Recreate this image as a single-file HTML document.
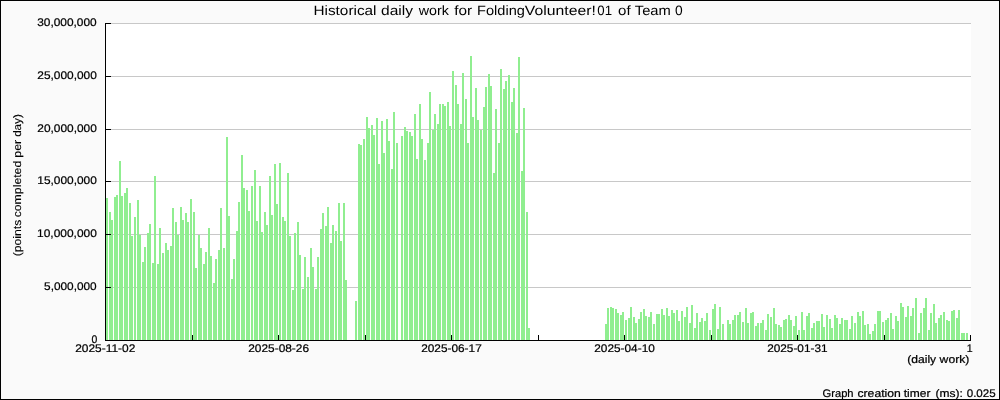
<!DOCTYPE html>
<html><head><meta charset="utf-8"><title>Historical daily work</title>
<style>
html,body{margin:0;padding:0;background:#fafafa;}
body{width:1000px;height:400px;overflow:hidden;font-family:"Liberation Sans",sans-serif;}
svg{display:block;}
</style></head><body>
<svg width="1000" height="400" viewBox="0 0 1000 400" shape-rendering="crispEdges" text-rendering="geometricPrecision" style="will-change:transform">
<rect x="0" y="0" width="1000" height="400" fill="#fafafa"/>
<rect x="106" y="24" width="865" height="316" fill="#fff"/>
<rect x="106" y="23" width="865" height="1" fill="#c8c8c8"/>
<rect x="106" y="76" width="865" height="1" fill="#c8c8c8"/>
<rect x="106" y="129" width="865" height="1" fill="#c8c8c8"/>
<rect x="106" y="181" width="865" height="1" fill="#c8c8c8"/>
<rect x="106" y="234" width="865" height="1" fill="#c8c8c8"/>
<rect x="106" y="287" width="865" height="1" fill="#c8c8c8"/>
<g fill="#90ee90"><rect x="106" y="198" width="2" height="142"/><rect x="109" y="212" width="2" height="128"/><rect x="111" y="220" width="2" height="120"/><rect x="114" y="197" width="2" height="143"/><rect x="116" y="195" width="2" height="145"/><rect x="119" y="161" width="2" height="179"/><rect x="121" y="196" width="2" height="144"/><rect x="124" y="193" width="2" height="147"/><rect x="126" y="188" width="2" height="152"/><rect x="129" y="203" width="2" height="137"/><rect x="131" y="236" width="2" height="104"/><rect x="134" y="217" width="2" height="123"/><rect x="137" y="200" width="2" height="140"/><rect x="139" y="235" width="2" height="105"/><rect x="142" y="262" width="2" height="78"/><rect x="144" y="247" width="2" height="93"/><rect x="147" y="233" width="2" height="107"/><rect x="149" y="224" width="2" height="116"/><rect x="152" y="263" width="2" height="77"/><rect x="154" y="176" width="2" height="164"/><rect x="157" y="264" width="2" height="76"/><rect x="159" y="228" width="2" height="112"/><rect x="162" y="253" width="2" height="87"/><rect x="165" y="243" width="2" height="97"/><rect x="167" y="250" width="2" height="90"/><rect x="170" y="246" width="2" height="94"/><rect x="172" y="208" width="2" height="132"/><rect x="175" y="222" width="2" height="118"/><rect x="177" y="235" width="2" height="105"/><rect x="180" y="207" width="2" height="133"/><rect x="182" y="220" width="2" height="120"/><rect x="185" y="213" width="2" height="127"/><rect x="187" y="222" width="2" height="118"/><rect x="190" y="199" width="2" height="141"/><rect x="193" y="212" width="2" height="128"/><rect x="195" y="268" width="2" height="72"/><rect x="198" y="235" width="2" height="105"/><rect x="200" y="248" width="2" height="92"/><rect x="203" y="264" width="2" height="76"/><rect x="205" y="252" width="2" height="88"/><rect x="208" y="228" width="2" height="112"/><rect x="210" y="256" width="2" height="84"/><rect x="213" y="283" width="2" height="57"/><rect x="215" y="259" width="2" height="81"/><rect x="218" y="250" width="2" height="90"/><rect x="220" y="208" width="2" height="132"/><rect x="223" y="248" width="2" height="92"/><rect x="226" y="137" width="2" height="203"/><rect x="228" y="216" width="2" height="124"/><rect x="231" y="279" width="2" height="61"/><rect x="233" y="259" width="2" height="81"/><rect x="236" y="231" width="2" height="109"/><rect x="238" y="202" width="2" height="138"/><rect x="241" y="155" width="2" height="185"/><rect x="243" y="188" width="2" height="152"/><rect x="246" y="190" width="2" height="150"/><rect x="248" y="211" width="2" height="129"/><rect x="251" y="186" width="2" height="154"/><rect x="254" y="170" width="2" height="170"/><rect x="256" y="221" width="2" height="119"/><rect x="259" y="186" width="2" height="154"/><rect x="261" y="232" width="2" height="108"/><rect x="264" y="212" width="2" height="128"/><rect x="266" y="225" width="2" height="115"/><rect x="269" y="176" width="2" height="164"/><rect x="271" y="215" width="2" height="125"/><rect x="274" y="164" width="2" height="176"/><rect x="276" y="204" width="2" height="136"/><rect x="279" y="163" width="2" height="177"/><rect x="282" y="217" width="2" height="123"/><rect x="284" y="221" width="2" height="119"/><rect x="287" y="173" width="2" height="167"/><rect x="289" y="236" width="2" height="104"/><rect x="292" y="290" width="2" height="50"/><rect x="294" y="233" width="2" height="107"/><rect x="297" y="222" width="2" height="118"/><rect x="299" y="255" width="2" height="85"/><rect x="302" y="289" width="2" height="51"/><rect x="304" y="257" width="2" height="83"/><rect x="307" y="277" width="2" height="63"/><rect x="310" y="248" width="2" height="92"/><rect x="312" y="267" width="2" height="73"/><rect x="315" y="289" width="2" height="51"/><rect x="317" y="257" width="2" height="83"/><rect x="320" y="229" width="2" height="111"/><rect x="322" y="213" width="2" height="127"/><rect x="325" y="226" width="2" height="114"/><rect x="327" y="207" width="2" height="133"/><rect x="330" y="243" width="2" height="97"/><rect x="332" y="225" width="2" height="115"/><rect x="335" y="231" width="2" height="109"/><rect x="338" y="203" width="2" height="137"/><rect x="340" y="241" width="2" height="99"/><rect x="343" y="203" width="2" height="137"/><rect x="345" y="280" width="2" height="60"/><rect x="355" y="301" width="2" height="39"/><rect x="358" y="144" width="2" height="196"/><rect x="360" y="145" width="2" height="195"/><rect x="363" y="139" width="2" height="201"/><rect x="366" y="117" width="2" height="223"/><rect x="368" y="128" width="2" height="212"/><rect x="371" y="125" width="2" height="215"/><rect x="373" y="135" width="2" height="205"/><rect x="376" y="118" width="2" height="222"/><rect x="378" y="164" width="2" height="176"/><rect x="381" y="121" width="2" height="219"/><rect x="383" y="153" width="2" height="187"/><rect x="386" y="119" width="2" height="221"/><rect x="388" y="141" width="2" height="199"/><rect x="391" y="169" width="2" height="171"/><rect x="393" y="112" width="2" height="228"/><rect x="396" y="143" width="2" height="197"/><rect x="401" y="136" width="2" height="204"/><rect x="404" y="127" width="2" height="213"/><rect x="406" y="131" width="2" height="209"/><rect x="409" y="132" width="2" height="208"/><rect x="411" y="136" width="2" height="204"/><rect x="414" y="114" width="2" height="226"/><rect x="416" y="159" width="2" height="181"/><rect x="419" y="104" width="2" height="236"/><rect x="421" y="139" width="2" height="201"/><rect x="424" y="160" width="2" height="180"/><rect x="427" y="143" width="2" height="197"/><rect x="429" y="92" width="2" height="248"/><rect x="432" y="130" width="2" height="210"/><rect x="434" y="114" width="2" height="226"/><rect x="437" y="124" width="2" height="216"/><rect x="439" y="104" width="2" height="236"/><rect x="442" y="104" width="2" height="236"/><rect x="444" y="106" width="2" height="234"/><rect x="447" y="102" width="2" height="238"/><rect x="449" y="126" width="2" height="214"/><rect x="452" y="71" width="2" height="269"/><rect x="455" y="85" width="2" height="255"/><rect x="457" y="104" width="2" height="236"/><rect x="460" y="124" width="2" height="216"/><rect x="462" y="73" width="2" height="267"/><rect x="465" y="99" width="2" height="241"/><rect x="467" y="143" width="2" height="197"/><rect x="470" y="56" width="2" height="284"/><rect x="472" y="117" width="2" height="223"/><rect x="475" y="88" width="2" height="252"/><rect x="477" y="120" width="2" height="220"/><rect x="480" y="130" width="2" height="210"/><rect x="483" y="107" width="2" height="233"/><rect x="485" y="87" width="2" height="253"/><rect x="488" y="74" width="2" height="266"/><rect x="490" y="86" width="2" height="254"/><rect x="493" y="173" width="2" height="167"/><rect x="495" y="109" width="2" height="231"/><rect x="498" y="143" width="2" height="197"/><rect x="500" y="69" width="2" height="271"/><rect x="503" y="89" width="2" height="251"/><rect x="505" y="81" width="2" height="259"/><rect x="508" y="75" width="2" height="265"/><rect x="511" y="102" width="2" height="238"/><rect x="513" y="88" width="2" height="252"/><rect x="516" y="133" width="2" height="207"/><rect x="518" y="57" width="2" height="283"/><rect x="521" y="171" width="2" height="169"/><rect x="523" y="108" width="2" height="232"/><rect x="526" y="212" width="2" height="128"/><rect x="528" y="328" width="2" height="12"/><rect x="605" y="324" width="2" height="16"/><rect x="607" y="308" width="2" height="32"/><rect x="610" y="307" width="2" height="33"/><rect x="612" y="308" width="2" height="32"/><rect x="615" y="309" width="2" height="31"/><rect x="617" y="313" width="2" height="27"/><rect x="620" y="315" width="2" height="25"/><rect x="622" y="312" width="2" height="28"/><rect x="625" y="320" width="2" height="20"/><rect x="628" y="318" width="2" height="22"/><rect x="630" y="307" width="2" height="33"/><rect x="633" y="317" width="2" height="23"/><rect x="635" y="323" width="2" height="17"/><rect x="638" y="319" width="2" height="21"/><rect x="640" y="312" width="2" height="28"/><rect x="643" y="309" width="2" height="31"/><rect x="645" y="316" width="2" height="24"/><rect x="648" y="317" width="2" height="23"/><rect x="650" y="312" width="2" height="28"/><rect x="653" y="324" width="2" height="16"/><rect x="656" y="314" width="2" height="26"/><rect x="658" y="314" width="2" height="26"/><rect x="661" y="309" width="2" height="31"/><rect x="663" y="315" width="2" height="25"/><rect x="666" y="308" width="2" height="32"/><rect x="668" y="316" width="2" height="24"/><rect x="671" y="310" width="2" height="30"/><rect x="673" y="313" width="2" height="27"/><rect x="676" y="310" width="2" height="30"/><rect x="678" y="321" width="2" height="19"/><rect x="681" y="311" width="2" height="29"/><rect x="684" y="317" width="2" height="23"/><rect x="686" y="307" width="2" height="33"/><rect x="689" y="323" width="2" height="17"/><rect x="691" y="305" width="2" height="35"/><rect x="694" y="328" width="2" height="12"/><rect x="696" y="313" width="2" height="27"/><rect x="699" y="322" width="2" height="18"/><rect x="701" y="318" width="2" height="22"/><rect x="704" y="321" width="2" height="19"/><rect x="706" y="313" width="2" height="27"/><rect x="709" y="330" width="2" height="10"/><rect x="712" y="309" width="2" height="31"/><rect x="714" y="304" width="2" height="36"/><rect x="717" y="329" width="2" height="11"/><rect x="719" y="307" width="2" height="33"/><rect x="722" y="324" width="2" height="16"/><rect x="727" y="320" width="2" height="20"/><rect x="729" y="324" width="2" height="16"/><rect x="732" y="320" width="2" height="20"/><rect x="734" y="315" width="2" height="25"/><rect x="737" y="315" width="2" height="25"/><rect x="739" y="312" width="2" height="28"/><rect x="742" y="322" width="2" height="18"/><rect x="745" y="308" width="2" height="32"/><rect x="747" y="323" width="2" height="17"/><rect x="750" y="313" width="2" height="27"/><rect x="752" y="312" width="2" height="28"/><rect x="755" y="326" width="2" height="14"/><rect x="757" y="323" width="2" height="17"/><rect x="760" y="323" width="2" height="17"/><rect x="762" y="320" width="2" height="20"/><rect x="765" y="330" width="2" height="10"/><rect x="767" y="314" width="2" height="26"/><rect x="770" y="317" width="2" height="23"/><rect x="773" y="308" width="2" height="32"/><rect x="775" y="324" width="2" height="16"/><rect x="778" y="325" width="2" height="15"/><rect x="780" y="327" width="2" height="13"/><rect x="783" y="320" width="2" height="20"/><rect x="785" y="319" width="2" height="21"/><rect x="788" y="315" width="2" height="25"/><rect x="790" y="320" width="2" height="20"/><rect x="793" y="326" width="2" height="14"/><rect x="795" y="316" width="2" height="24"/><rect x="798" y="330" width="2" height="10"/><rect x="801" y="312" width="2" height="28"/><rect x="803" y="330" width="2" height="10"/><rect x="806" y="316" width="2" height="24"/><rect x="808" y="313" width="2" height="27"/><rect x="811" y="328" width="2" height="12"/><rect x="813" y="323" width="2" height="17"/><rect x="816" y="321" width="2" height="19"/><rect x="818" y="321" width="2" height="19"/><rect x="821" y="314" width="2" height="26"/><rect x="823" y="327" width="2" height="13"/><rect x="826" y="315" width="2" height="25"/><rect x="829" y="319" width="2" height="21"/><rect x="831" y="328" width="2" height="12"/><rect x="834" y="315" width="2" height="25"/><rect x="836" y="318" width="2" height="22"/><rect x="839" y="324" width="2" height="16"/><rect x="841" y="318" width="2" height="22"/><rect x="844" y="320" width="2" height="20"/><rect x="846" y="320" width="2" height="20"/><rect x="849" y="329" width="2" height="11"/><rect x="851" y="316" width="2" height="24"/><rect x="854" y="323" width="2" height="17"/><rect x="857" y="312" width="2" height="28"/><rect x="859" y="316" width="2" height="24"/><rect x="862" y="311" width="2" height="29"/><rect x="864" y="325" width="2" height="15"/><rect x="867" y="324" width="2" height="16"/><rect x="869" y="334" width="2" height="6"/><rect x="872" y="331" width="2" height="9"/><rect x="874" y="324" width="2" height="16"/><rect x="877" y="311" width="2" height="29"/><rect x="879" y="311" width="2" height="29"/><rect x="882" y="322" width="2" height="18"/><rect x="885" y="320" width="2" height="20"/><rect x="887" y="318" width="2" height="22"/><rect x="890" y="313" width="2" height="27"/><rect x="892" y="329" width="2" height="11"/><rect x="895" y="316" width="2" height="24"/><rect x="897" y="321" width="2" height="19"/><rect x="900" y="303" width="2" height="37"/><rect x="902" y="307" width="2" height="33"/><rect x="905" y="317" width="2" height="23"/><rect x="907" y="306" width="2" height="34"/><rect x="910" y="316" width="2" height="24"/><rect x="912" y="308" width="2" height="32"/><rect x="915" y="298" width="2" height="42"/><rect x="918" y="333" width="2" height="7"/><rect x="920" y="313" width="2" height="27"/><rect x="923" y="308" width="2" height="32"/><rect x="925" y="298" width="2" height="42"/><rect x="928" y="330" width="2" height="10"/><rect x="930" y="313" width="2" height="27"/><rect x="933" y="304" width="2" height="36"/><rect x="935" y="323" width="2" height="17"/><rect x="938" y="318" width="2" height="22"/><rect x="940" y="315" width="2" height="25"/><rect x="943" y="312" width="2" height="28"/><rect x="946" y="320" width="2" height="20"/><rect x="948" y="321" width="2" height="19"/><rect x="951" y="311" width="2" height="29"/><rect x="953" y="310" width="2" height="30"/><rect x="956" y="318" width="2" height="22"/><rect x="958" y="310" width="2" height="30"/><rect x="961" y="333" width="2" height="7"/><rect x="963" y="333" width="2" height="7"/><rect x="966" y="333" width="2" height="7"/></g>
<rect x="105" y="23" width="1" height="318" fill="#000"/>
<rect x="105" y="340" width="866" height="1" fill="#000"/>
<rect x="105" y="23" width="6" height="1" fill="#000"/>
<rect x="105" y="76" width="6" height="1" fill="#000"/>
<rect x="105" y="129" width="6" height="1" fill="#000"/>
<rect x="105" y="181" width="6" height="1" fill="#000"/>
<rect x="105" y="234" width="6" height="1" fill="#000"/>
<rect x="105" y="287" width="6" height="1" fill="#000"/>
<rect x="192" y="335" width="1" height="6" fill="#000"/>
<rect x="278" y="335" width="1" height="6" fill="#000"/>
<rect x="365" y="335" width="1" height="6" fill="#000"/>
<rect x="451" y="335" width="1" height="6" fill="#000"/>
<rect x="538" y="335" width="1" height="6" fill="#000"/>
<rect x="624" y="335" width="1" height="6" fill="#000"/>
<rect x="711" y="335" width="1" height="6" fill="#000"/>
<rect x="797" y="335" width="1" height="6" fill="#000"/>
<rect x="884" y="335" width="1" height="6" fill="#000"/>
<rect x="970" y="335" width="1" height="6" fill="#000"/>
<path d="M0.5 0.5H999.5V399.5H0.5Z" fill="none" stroke="#000" stroke-width="1"/>
<g font-family="'Liberation Sans', sans-serif" fill="#000" stroke="#000" stroke-width="0.22"><text x="313.49" y="15" font-size="13.5" stroke-width="0" textLength="63.01" lengthAdjust="spacingAndGlyphs">Historical</text><text x="380.99" y="15" font-size="13.5" stroke-width="0" textLength="31.96" lengthAdjust="spacingAndGlyphs">daily</text><text x="418.7" y="15" font-size="13.5" stroke-width="0" textLength="30.14" lengthAdjust="spacingAndGlyphs">work</text><text x="454.25" y="15" font-size="13.5" stroke-width="0" textLength="17.91" lengthAdjust="spacingAndGlyphs">for</text><text x="477.06" y="15" font-size="13.5" stroke-width="0" textLength="47.83" lengthAdjust="spacingAndGlyphs">Folding</text><text x="524.88" y="15" font-size="13.5" stroke-width="0" textLength="70.94" lengthAdjust="spacingAndGlyphs">Volunteer!</text><text x="597.32" y="15" font-size="13.5" stroke-width="0" textLength="14.73" lengthAdjust="spacingAndGlyphs">01</text><text x="618.08" y="15" font-size="13.5" stroke-width="0" textLength="12.54" lengthAdjust="spacingAndGlyphs">of</text><text x="634.77" y="15" font-size="13.5" stroke-width="0" textLength="36.04" lengthAdjust="spacingAndGlyphs">Team</text><text x="675.09" y="15" font-size="13.5" stroke-width="0" textLength="7.68" lengthAdjust="spacingAndGlyphs">0</text><text x="37.24" y="26" font-size="11" textLength="59.46" lengthAdjust="spacingAndGlyphs">30,000,000</text><text x="37.36" y="79" font-size="11" textLength="59.46" lengthAdjust="spacingAndGlyphs">25,000,000</text><text x="37.36" y="132" font-size="11" textLength="59.46" lengthAdjust="spacingAndGlyphs">20,000,000</text><text x="37.32" y="184" font-size="11" textLength="59.48" lengthAdjust="spacingAndGlyphs">15,000,000</text><text x="37.09" y="237" font-size="11" textLength="59.71" lengthAdjust="spacingAndGlyphs">10,000,000</text><text x="44.1" y="290" font-size="11" textLength="52.55" lengthAdjust="spacingAndGlyphs">5,000,000</text><text x="91.54" y="343" font-size="11" textLength="5.8" lengthAdjust="spacingAndGlyphs">0</text><text x="75.2" y="352" font-size="11" textLength="60.16" lengthAdjust="spacingAndGlyphs">2025-11-02</text><text x="248.25" y="352" font-size="11" textLength="60.77" lengthAdjust="spacingAndGlyphs">2025-08-26</text><text x="421.16" y="352" font-size="11" textLength="60.59" lengthAdjust="spacingAndGlyphs">2025-06-17</text><text x="594.29" y="352" font-size="11" textLength="60.52" lengthAdjust="spacingAndGlyphs">2025-04-10</text><text x="767.2" y="352" font-size="11" textLength="60.34" lengthAdjust="spacingAndGlyphs">2025-01-31</text><text x="966.82" y="352" font-size="11" textLength="5.88" lengthAdjust="spacingAndGlyphs">1</text><text x="907.22" y="363" font-size="11" textLength="28.92" lengthAdjust="spacingAndGlyphs">(daily</text><text x="939.62" y="363" font-size="11" textLength="29.71" lengthAdjust="spacingAndGlyphs">work)</text><text x="822.54" y="396.9" font-size="11" textLength="31.04" lengthAdjust="spacingAndGlyphs">Graph</text><text x="857.47" y="396.9" font-size="11" textLength="43.34" lengthAdjust="spacingAndGlyphs">creation</text><text x="903.78" y="396.9" font-size="11" textLength="26.68" lengthAdjust="spacingAndGlyphs">timer</text><text x="935.5" y="396.9" font-size="11" textLength="27.3" lengthAdjust="spacingAndGlyphs">(ms):</text><text x="966.69" y="396.9" font-size="11" textLength="29.02" lengthAdjust="spacingAndGlyphs">0.025</text><text x="0" y="0" font-size="11" stroke-width="0.1" textLength="36.75" lengthAdjust="spacingAndGlyphs" transform="translate(21,256.35) rotate(-90)">(points</text><text x="0" y="0" font-size="11" stroke-width="0.1" textLength="56.59" lengthAdjust="spacingAndGlyphs" transform="translate(21,217.33) rotate(-90)">completed</text><text x="0" y="0" font-size="11" stroke-width="0.1" textLength="17.86" lengthAdjust="spacingAndGlyphs" transform="translate(21,157.7) rotate(-90)">per</text><text x="0" y="0" font-size="11" stroke-width="0.1" textLength="22.7" lengthAdjust="spacingAndGlyphs" transform="translate(21,136.87) rotate(-90)">day)</text></g>
</svg>
</body></html>
